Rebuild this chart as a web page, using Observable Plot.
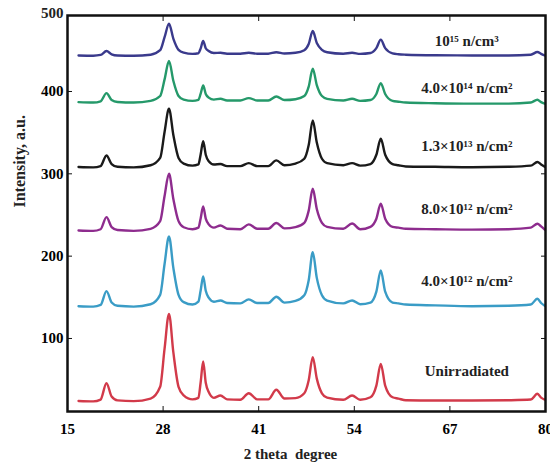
<!DOCTYPE html>
<html><head><meta charset="utf-8">
<script src="https://cdn.jsdelivr.net/npm/d3@7"></script>
<script src="https://cdn.jsdelivr.net/npm/@observablehq/plot@0.6"></script>
<style>body{margin:0;background:#fff}</style>
</head><body><div id="chart"></div>
<script>
const twoTheta = [16.5,18.5,19.5,20.3,21.0,21.8,24.0,26.3,27.6,28.2,28.8,29.4,30.1,30.8,32.0,32.8,33.1,33.45,33.8,34.2,34.9,35.8,36.7,38.5,39.65,40.8,42.3,43.4,44.5,46.0,47.2,47.8,48.35,48.9,49.6,50.3,52.5,53.7,54.8,56.2,57.0,57.6,58.2,59.2,60.0,61.0,65.0,70.0,75.0,78.0,78.9,79.4,79.9];
const unirradiated = [24.1,23.6,25.8,45.7,29.5,24.8,23.9,27.0,41.3,87.6,129.9,82.7,41.3,30.9,26.0,27.9,46.2,72.1,46.2,34.9,27.9,30.7,26.0,25.5,33.5,26.0,26.0,37.7,27.0,27.5,33.4,49.2,77.3,51.2,33.4,28.1,25.5,30.7,25.5,28.6,42.8,69.2,42.8,28.6,27.0,25.0,24.6,24.6,25.0,25.8,32.8,28.2,25.8];
const flux4e12 = [139.2,138.7,140.7,157.5,143.7,139.7,138.7,141.6,153.0,190.4,223.9,185.4,153.0,144.1,141.2,144.7,157.9,175.3,157.9,149.5,144.6,146.1,143.1,142.6,147.5,143.1,143.1,150.7,143.6,145.6,152.5,170.7,204.8,173.6,152.5,146.1,142.6,146.2,141.6,143.6,156.9,182.6,156.9,143.6,142.6,141.2,140.2,139.2,139.7,141.2,148.3,143.1,139.7];
const flux8e12 = [231.2,230.7,232.7,247.4,235.3,231.7,230.7,233.2,242.5,273.0,300.1,269.1,242.5,235.1,232.7,234.6,245.5,260.3,245.5,238.6,234.6,237.3,233.3,232.7,238.6,233.3,233.3,240.2,233.7,235.3,240.5,255.3,281.9,257.3,240.5,235.6,233.2,239.6,232.7,235.6,245.5,263.7,245.5,235.6,234.6,233.2,232.7,232.2,232.7,234.6,239.4,236.1,232.2];
const flux13e13 = [308.2,307.8,309.4,322.3,311.9,308.5,307.8,310.4,319.3,350.8,379.1,346.8,319.3,312.4,309.9,311.4,323.2,339.7,323.2,315.3,311.4,311.9,309.4,309.4,313.0,309.4,309.4,316.3,310.4,312.4,318.3,335.0,364.8,338.0,318.3,312.9,310.4,313.0,309.9,311.9,323.2,342.6,323.2,311.9,310.4,308.9,308.5,307.9,308.5,309.9,314.3,311.4,308.5];
const flux4e14 = [387.1,386.6,388.1,398.0,389.6,387.3,386.6,388.6,394.5,414.7,437.0,412.7,394.5,390.1,388.6,389.9,397.0,407.3,397.0,392.6,390.1,391.2,389.1,389.1,392.0,389.1,389.1,394.0,389.6,390.6,394.5,405.9,427.7,407.8,394.5,391.1,389.1,391.2,388.6,389.6,397.0,410.2,397.0,388.6,387.6,386.6,385.7,385.2,385.2,386.6,390.0,387.1,385.2];
const flux1e15 = [443.8,443.5,444.4,449.1,445.2,443.8,443.5,444.7,450.1,465.9,482.3,463.9,450.6,447.2,445.7,446.5,452.1,461.3,452.6,449.2,446.7,447.0,445.9,445.9,447.0,445.9,445.9,447.7,446.2,447.0,450.1,457.6,473.4,459.0,450.6,447.7,445.9,447.0,445.7,446.7,452.6,463.0,452.6,446.2,445.2,444.7,444.0,443.8,443.8,444.7,447.9,445.7,443.7];

const seriesValues = [unirradiated, flux4e12, flux8e12, flux13e13, flux4e14, flux1e15];
const seriesColors = ["#d23a4a", "#3a9cc6", "#8e2c8e", "#1a1a1a", "#25996a", "#3a3a8c"];
const seriesLabels = ["Unirradiated", "4.0×10¹² n/cm²", "8.0×10¹² n/cm²", "1.3×10¹³ n/cm²", "4.0×10¹⁴ n/cm²", "10¹⁵ n/cm³"];
const labelY = [59.9, 169.3, 256.7, 333.3, 403.8, 460.9];
const labelX = 69.3;
const xTicks = [15, 28, 41, 54, 67, 80];
const yTicks = [100, 200, 300, 400];
const yTopLabel = "500";

const font = "'Liberation Serif', 'Times New Roman', serif";

const lineMarks = seriesValues.map((vals, i) =>
  Plot.line(twoTheta.map((t, j) => ({t, v: vals[j]})), {
    x: "t", y: "v", stroke: seriesColors[i], strokeWidth: 2.4, curve: "monotone-x"
  })
);

const labelRows = seriesLabels.map((s, i) => ({s, y: labelY[i]}));

const chart = Plot.plot({
  width: 550,
  height: 469,
  marginLeft: 67,
  marginRight: 5,
  marginTop: 15,
  marginBottom: 58,
  style: {fontFamily: font, fontWeight: "bold", background: "#fff", overflow: "visible"},
  x: {domain: [15, 80]},
  y: {domain: [11.3, 492.3]},
  marks: [
    ...lineMarks,
    Plot.text(labelRows, {x: labelX, y: "y", text: "s", fontSize: 15, fontWeight: "bold", fill: "#222"}),
    Plot.axisX(xTicks, {anchor: "bottom", tickSize: -5, tickPadding: 17, fontSize: 15, fontWeight: "bold", label: null, stroke: "#111"}),
    Plot.axisX(xTicks, {anchor: "top", tickSize: -5, tickFormat: () => "", label: null, stroke: "#111"}),
    Plot.axisY(yTicks, {anchor: "left", tickSize: -5, tickPadding: 9, fontSize: 15, fontWeight: "bold", label: null, stroke: "#111"}),
    Plot.axisY(yTicks, {anchor: "right", tickSize: -5, tickFormat: () => "", label: null, stroke: "#111"}),
    Plot.text([yTopLabel], {frameAnchor: "top-left", dx: -4, dy: -2, lineAnchor: "middle", textAnchor: "end", fontSize: 15, fontWeight: "bold", fill: "#222"}),
    Plot.frame({stroke: "#111", strokeWidth: 2.5}),
    Plot.text(["2 theta\u00a0 degree"], {frameAnchor: "bottom", dy: 47, dx: -16, fontSize: 15, fontWeight: "bold", fill: "#222"}),
    Plot.text(["Intensity, a.u."], {frameAnchor: "left", dx: -48, dy: -6, rotate: -90, fontSize: 16, fontWeight: "bold", fill: "#222"})
  ]
});
document.getElementById("chart").appendChild(chart);
</script>
</body></html>
